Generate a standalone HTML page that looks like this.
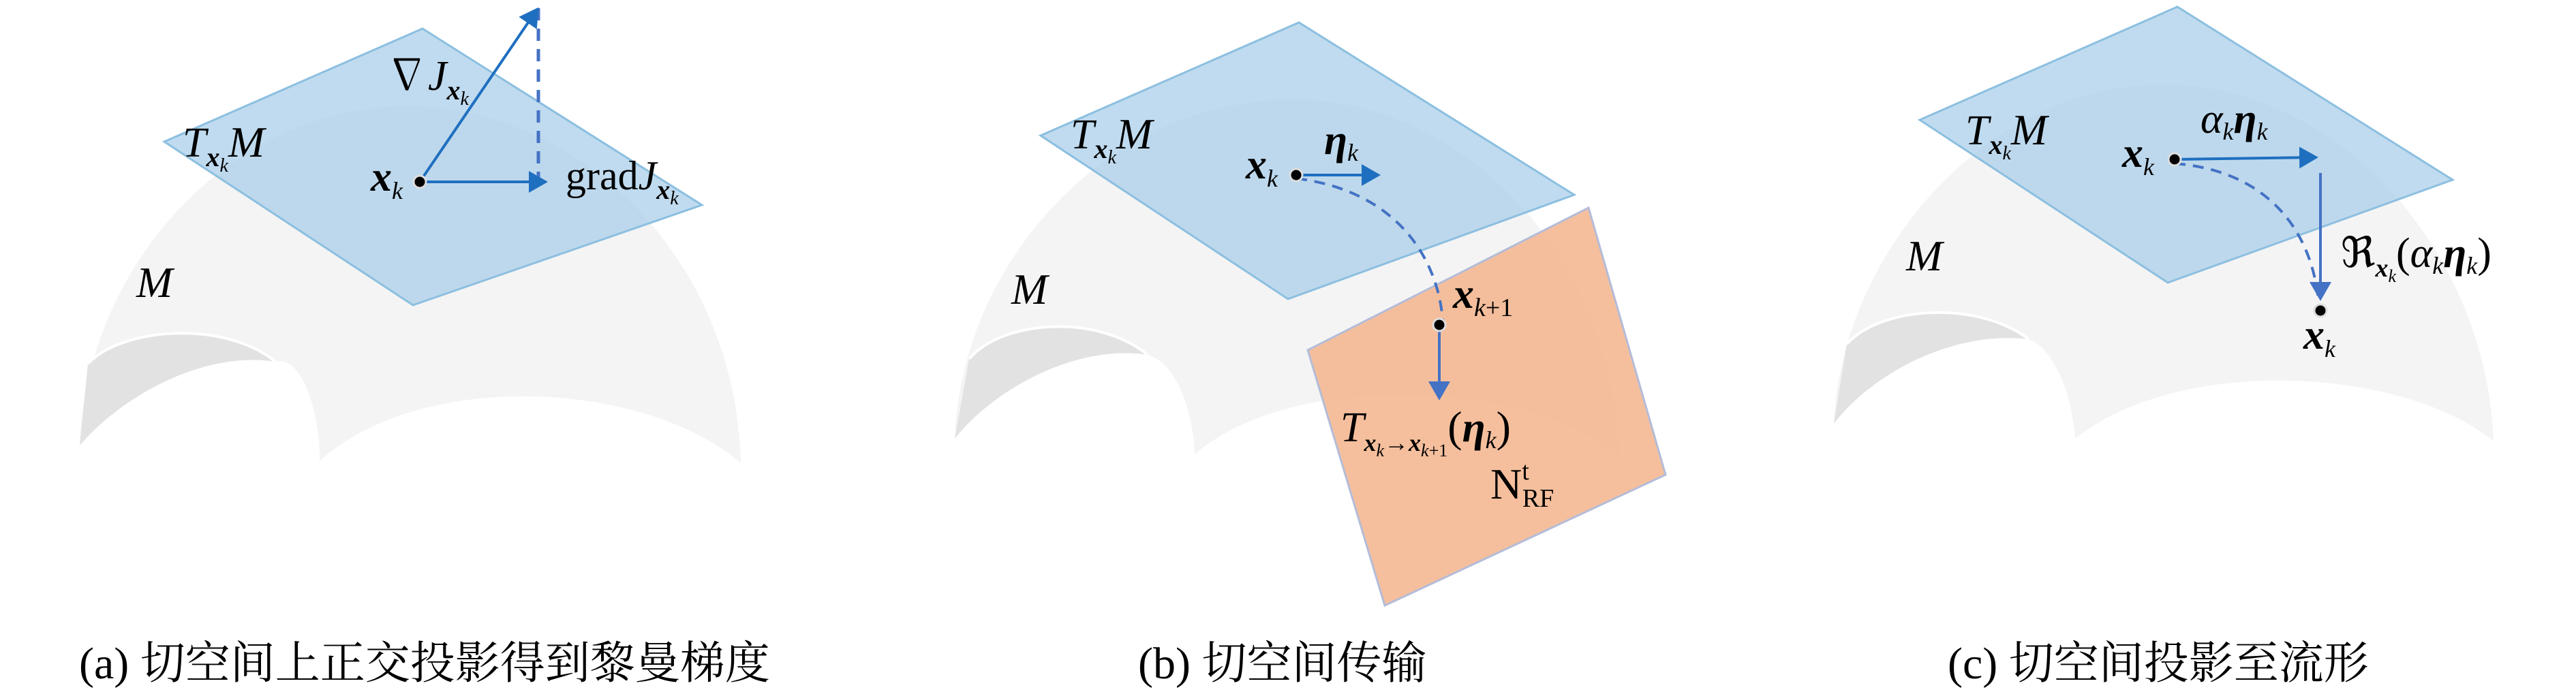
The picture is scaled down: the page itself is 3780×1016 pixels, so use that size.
<!DOCTYPE html>
<html><head><meta charset="utf-8"><style>
html,body{margin:0;padding:0;background:#fff;}
svg{display:block;}
text{font-family:"Liberation Serif","Noto Serif CJK SC",serif;fill:#000;}
.it{font-style:italic;}
.b{font-weight:bold;font-style:italic;}
.cap{font-family:"Liberation Serif","Noto Serif CJK SC",serif;font-size:66px;}
</style></head><body>
<svg width="3780" height="1016" viewBox="0 0 3780 1016" xmlns="http://www.w3.org/2000/svg">
<defs>
<marker id="ah" markerWidth="8" markerHeight="8" refX="6" refY="4" orient="auto" markerUnits="strokeWidth">
<path d="M0,0 L7,4 L0,8 z" fill="#1f6fc0"/></marker>
<marker id="ah2" markerWidth="8" markerHeight="8" refX="6" refY="4" orient="auto" markerUnits="strokeWidth">
<path d="M0,0 L7,4 L0,8 z" fill="#4472c4"/></marker>
</defs>

<!-- Panel A -->
<g>
<path d="M117,654 C125,400 330,156 598,156 C850,156 1080,380 1087,680 C950,560 620,540 469,677 C470,600 440,520 404,531 C330,470 180,480 129,534 Z" fill="#f4f4f4"/>
<path d="M129,534 C180,480 330,470 404,531 C300,515 180,580 117,654 Z" fill="#e2e2e2"/>
<path d="M129,534 C180,480 330,470 404,531" fill="none" stroke="#fff" stroke-width="4"/>
<polygon points="620,42 241,208 606,448 1030,301" fill="#a8cde9" fill-opacity="0.72" stroke="#8cbfe0" stroke-width="3"/>
<line x1="790" y1="12" x2="790" y2="267" stroke="#4472c4" stroke-width="5" stroke-dasharray="18,12"/>
<line x1="616" y1="267" x2="788" y2="14" stroke="#1f6fc0" stroke-width="4" marker-end="url(#ah)"/>
<line x1="616" y1="267" x2="800" y2="267" stroke="#1f6fc0" stroke-width="4" marker-end="url(#ah)"/>
<circle cx="616" cy="267" r="9" fill="#000" stroke="#ddd" stroke-width="3"/>
<text x="566" y="132" font-size="62">∇<tspan class="it">J</tspan><tspan class="b" font-size="40" dy="14">x</tspan><tspan class="it" font-size="28" dy="8">k</tspan></text>
<text x="268" y="230" font-size="62" class="it">T<tspan class="b" font-size="40" dy="14">x</tspan><tspan font-size="28" dy="8">k</tspan><tspan font-size="64" dy="-22">M</tspan></text>
<text x="544" y="280" font-size="62" class="b">x<tspan class="it" font-weight="normal" font-size="36" dy="12">k</tspan></text>
<text x="830" y="278" font-size="60">grad<tspan class="it">J</tspan><tspan class="b" font-size="40" dy="14">x</tspan><tspan class="it" font-size="28" dy="8">k</tspan></text>
<text x="200" y="436" font-size="64" class="it">M</text>
<text x="116" y="996" class="cap">(a) 切空间上正交投影得到黎曼梯度</text>
</g>

<!-- Panel B -->
<g>
<path d="M1401,644 C1410,390 1620,146 1898,146 C2150,146 2370,380 2375,670 C2250,560 1900,540 1753,667 C1750,590 1720,530 1684,521 C1610,460 1470,470 1422,527 Z" fill="#f4f4f4"/>
<path d="M1422,527 C1470,470 1610,460 1684,521 C1580,505 1460,570 1401,644 Z" fill="#e2e2e2"/>
<path d="M1422,527 C1470,470 1610,460 1684,521" fill="none" stroke="#fff" stroke-width="4"/>
<polygon points="1906,33 1527,199 1890,439 2310,286" fill="#a8cde9" fill-opacity="0.72" stroke="#8cbfe0" stroke-width="3"/>
<polygon points="1919,514 2331,305 2444,697 2032,889" fill="#f4b68f" fill-opacity="0.88" stroke="#b4bcd8" stroke-width="3"/>
<path d="M1902,262 C2050,280 2110,380 2117,470" fill="none" stroke="#4472c4" stroke-width="4" stroke-dasharray="16,11"/>
<line x1="1902" y1="257" x2="2022" y2="257" stroke="#1f6fc0" stroke-width="4" marker-end="url(#ah)"/>
<line x1="2112" y1="477" x2="2112" y2="584" stroke="#4472c4" stroke-width="4" marker-end="url(#ah2)"/>
<circle cx="1902" cy="257" r="9" fill="#000" stroke="#ddd" stroke-width="3"/>
<circle cx="2112" cy="477" r="9" fill="#000" stroke="#ddd" stroke-width="3"/>
<text x="1571" y="218" font-size="62" class="it">T<tspan class="b" font-size="40" dy="14">x</tspan><tspan font-size="28" dy="8">k</tspan><tspan font-size="64" dy="-22">M</tspan></text>
<text x="1828" y="262" font-size="62" class="b">x<tspan class="it" font-weight="normal" font-size="36" dy="12">k</tspan></text>
<text x="1943" y="226" font-size="62" class="b">η<tspan class="it" font-weight="normal" font-size="36" dy="10">k</tspan></text>
<text x="2132" y="452" font-size="62" class="b">x<tspan class="it" font-weight="normal" font-size="38" dy="12">k</tspan><tspan font-weight="normal" font-style="normal" font-size="38">+1</tspan></text>
<text x="1967" y="648" font-size="62" class="it">T<tspan class="b" font-size="36" dy="14">x</tspan><tspan font-size="26" dy="8">k</tspan><tspan font-style="normal" font-size="36" dy="-8">→</tspan><tspan class="b" font-size="36">x</tspan><tspan font-size="26" dy="8">k</tspan><tspan font-style="normal" font-size="26">+1</tspan><tspan font-style="normal" font-size="64" dy="-22">(</tspan><tspan class="b" font-size="62">η</tspan><tspan font-size="36" dy="10">k</tspan><tspan font-style="normal" font-size="64" dy="-10">)</tspan></text>
<text x="2187" y="732" font-size="64">N<tspan font-size="38" dy="-28">t</tspan><tspan font-size="38" dx="-10" dy="40">RF</tspan></text>
<text x="1484" y="446" font-size="64" class="it">M</text>
<text x="1670" y="996" class="cap">(b) 切空间传输</text>
</g>

<!-- Panel C -->
<g>
<path d="M2691,622 C2700,380 2910,124 3174,124 C3440,124 3650,380 3659,648 C3530,540 3200,520 3045,644 C3040,570 3010,510 2977,498 C2900,440 2760,450 2710,505 Z" fill="#f4f4f4"/>
<path d="M2710,505 C2760,450 2900,440 2977,498 C2870,485 2750,545 2691,622 Z" fill="#e2e2e2"/>
<path d="M2710,505 C2760,450 2900,440 2977,498" fill="none" stroke="#fff" stroke-width="4"/>
<polygon points="3195,10 2817,176 3181,415 3599,264" fill="#a8cde9" fill-opacity="0.72" stroke="#8cbfe0" stroke-width="3"/>
<path d="M3191,240 C3320,250 3390,330 3402,440" fill="none" stroke="#4472c4" stroke-width="4" stroke-dasharray="16,11"/>
<line x1="3191" y1="234" x2="3398" y2="231" stroke="#1f6fc0" stroke-width="4" marker-end="url(#ah)"/>
<line x1="3405" y1="254" x2="3405" y2="438" stroke="#4472c4" stroke-width="4" marker-end="url(#ah2)"/>
<circle cx="3191" cy="234" r="9" fill="#000" stroke="#ddd" stroke-width="3"/>
<circle cx="3405" cy="456" r="9" fill="#000" stroke="#ddd" stroke-width="3"/>
<text x="2884" y="212" font-size="62" class="it">T<tspan class="b" font-size="40" dy="14">x</tspan><tspan font-size="28" dy="8">k</tspan><tspan font-size="64" dy="-22">M</tspan></text>
<text x="3229" y="195" font-size="62" class="it">α<tspan font-size="36" dy="10">k</tspan><tspan class="b" font-size="62" dy="-10">η</tspan><tspan font-size="36" dy="10">k</tspan></text>
<text x="3114" y="245" font-size="62" class="b">x<tspan class="it" font-weight="normal" font-size="36" dy="12">k</tspan></text>
<text x="3435" y="392" font-size="62">ℜ<tspan class="b" font-size="38" dy="14">x</tspan><tspan class="it" font-size="26" dy="8">k</tspan><tspan font-size="62" dy="-22">(</tspan><tspan class="it">α</tspan><tspan class="it" font-size="36" dy="10">k</tspan><tspan class="b" font-size="62" dy="-10">η</tspan><tspan class="it" font-size="36" dy="10">k</tspan><tspan font-size="62" dy="-10">)</tspan></text>
<text x="2797" y="397" font-size="64" class="it">M</text>
<text x="3380" y="512" font-size="62" class="b">x<tspan class="it" font-weight="normal" font-size="36" dy="12">k</tspan></text>
<text x="2858" y="996" class="cap">(c) 切空间投影至流形</text>
</g>
</svg>
</body></html>
